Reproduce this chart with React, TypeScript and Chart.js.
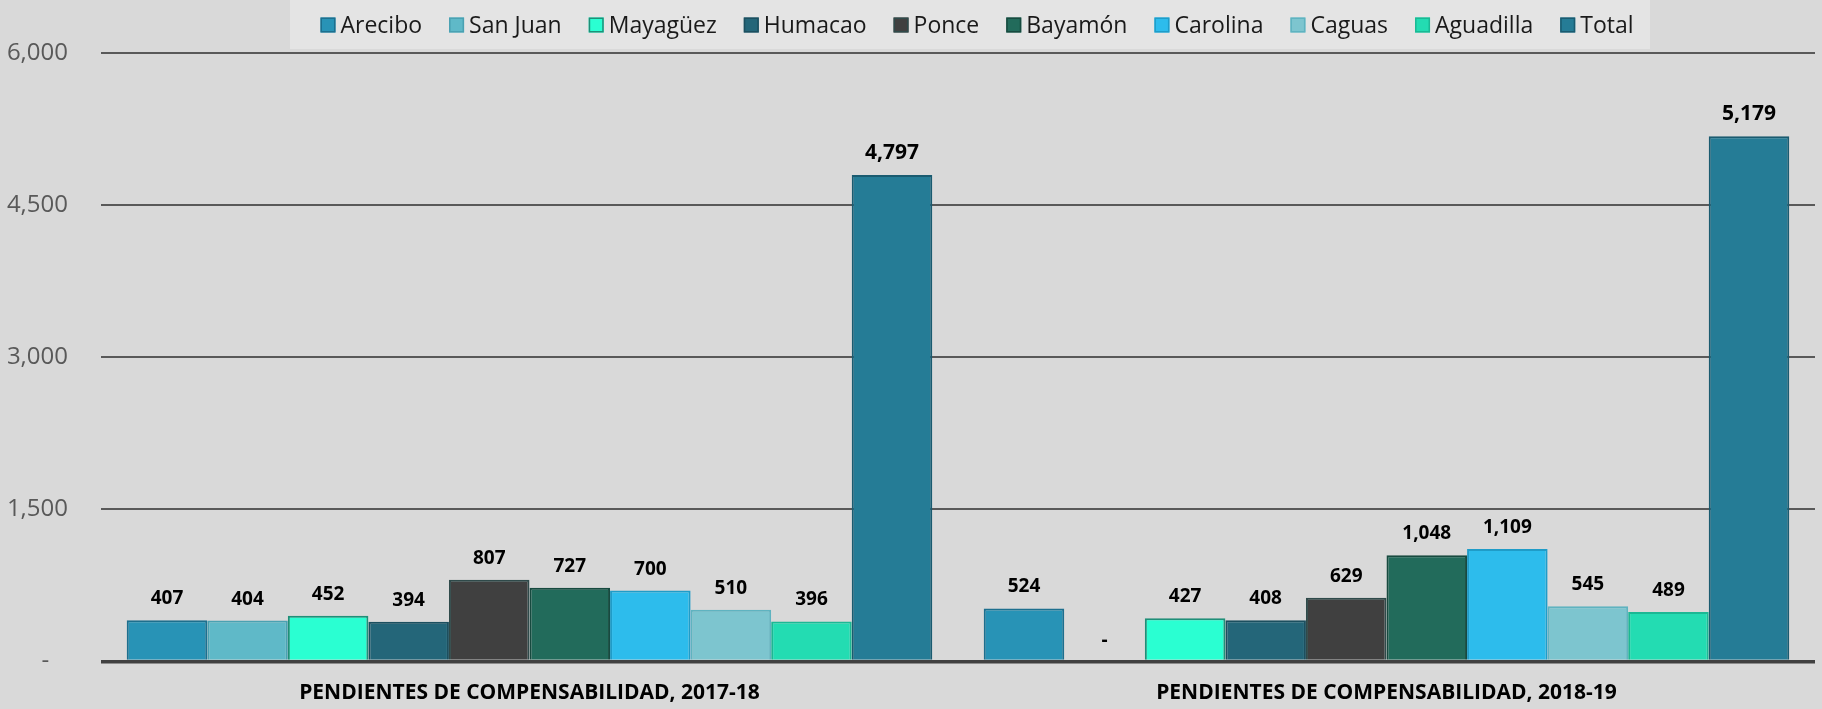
import React, { useEffect, useRef } from "react";
import { Chart, registerables } from "chart.js";

Chart.register(...registerables);

const categories = [
  "PENDIENTES DE COMPENSABILIDAD, 2017-18",
  "PENDIENTES DE COMPENSABILIDAD, 2018-19",
];
const seriesNames = [
  "Arecibo",
  "San Juan",
  "Mayagüez",
  "Humacao",
  "Ponce",
  "Bayamón",
  "Carolina",
  "Caguas",
  "Aguadilla",
  "Total",
];
const arecibo = [407, 524];
const sanJuan = [404, 0];
const mayaguez = [452, 427];
const humacao = [394, 408];
const ponce = [807, 629];
const bayamon = [727, 1048];
const carolina = [700, 1109];
const caguas = [510, 545];
const aguadilla = [396, 489];
const total = [4797, 5179];
const yTicks = [0, 1500, 3000, 4500, 6000];

const fills = ["#2893b6", "#5fb9c8", "#2affd2", "#246679", "#404040", "#226b5b", "#2dbcec", "#7dc5cf", "#23dcb2", "#257c96"];
const borders = ["#1d6f8e", "#4aa1b2", "#1f8f78", "#1c4f5f", "#2f4a4a", "#174a3f", "#1f9cc8", "#5fb3c0", "#1bb894", "#1a5b70"];

const FONT = "'Open Sans', 'Noto Sans', sans-serif";

const fmt = (v: number) => (v === 0 ? "-" : v.toLocaleString("en-US"));

const legendPlugin = {
  id: "customLegend",
  afterDraw(chart: any) {
    const ctx = chart.ctx;
    ctx.save();
    ctx.fillStyle = "#e4e4e4";
    ctx.fillRect(290, 0, 1360, 49);
    ctx.font = `23px ${FONT}`;
    ctx.textBaseline = "middle";
    const sq = 15;
    const gapSq = 5;
    const gapItem = 27;
    const ds = chart.data.datasets;
    let totalW = 0;
    const widths = ds.map((d: any) => ctx.measureText(d.label).width);
    widths.forEach((w: number, i: number) => {
      totalW += sq + gapSq + w + (i < widths.length - 1 ? gapItem : 0);
    });
    let x = 977 - totalW / 2;
    const cy = 25;
    ds.forEach((d: any, i: number) => {
      ctx.fillStyle = d.backgroundColor;
      ctx.fillRect(x, cy - sq / 2, sq, sq);
      ctx.strokeStyle = d.borderColor;
      ctx.lineWidth = 1.5;
      ctx.strokeRect(x + 0.75, cy - sq / 2 + 0.75, sq - 1.5, sq - 1.5);
      ctx.fillStyle = "#1a1a1a";
      ctx.textAlign = "left";
      ctx.fillText(d.label, x + sq + gapSq, cy + 1);
      x += sq + gapSq + widths[i] + gapItem;
    });
    ctx.restore();
  },
};

const dataLabelPlugin = {
  id: "dataLabels",
  afterDatasetsDraw(chart: any) {
    const ctx = chart.ctx;
    ctx.save();
    ctx.fillStyle = "#000000";
    ctx.textAlign = "center";
    ctx.textBaseline = "alphabetic";
    chart.data.datasets.forEach((d: any, di: number) => {
      const meta = chart.getDatasetMeta(di);
      const isTotal = di === chart.data.datasets.length - 1;
      ctx.font = `bold ${isTotal ? 21 : 19}px ${FONT}`;
      meta.data.forEach((bar: any, i: number) => {
        const v = d.data[i];
        ctx.fillText(fmt(v), bar.x, bar.y - 16);
      });
    });
    ctx.restore();
  },
};

export default function App() {
  const ref = useRef<HTMLCanvasElement | null>(null);

  useEffect(() => {
    document.body.style.margin = "0";
    const values = [arecibo, sanJuan, mayaguez, humacao, ponce, bayamon, carolina, caguas, aguadilla, total];
    const chart = new Chart(ref.current as HTMLCanvasElement, {
      type: "bar",
      data: {
        labels: categories,
        datasets: seriesNames.map((name, i) => ({
          label: name,
          data: values[i],
          backgroundColor: fills[i],
          borderColor: borders[i],
          borderWidth: 2,
          categoryPercentage: 0.94,
          barPercentage: 1,
        })),
      },
      options: {
        animation: false,
        responsive: true,
        maintainAspectRatio: false,
        layout: { padding: { top: 53, right: 7, left: 0, bottom: 0 } },
        plugins: {
          legend: { display: false },
          tooltip: { enabled: false },
        },
        scales: {
          x: {
            grid: { display: false, drawTicks: false },
            border: { display: false },
            ticks: {
              color: "#000000",
              font: { family: FONT, size: 21, weight: "bold" },
              padding: 19,
              maxRotation: 0,
            },
            afterFit: (s: any) => {
              s.height = 41;
            },
          },
          y: {
            min: 0,
            max: 6000,
            afterBuildTicks: (s: any) => {
              s.ticks = yTicks.map((v) => ({ value: v }));
            },
            grid: {
              drawTicks: false,
              color: (c: any) => (c.tick && c.tick.value === 0 ? "#404040" : "#595959"),
              lineWidth: (c: any) => (c.tick && c.tick.value === 0 ? 3.5 : 2),
            },
            border: { display: false },
            ticks: {
              color: "#595959",
              font: { family: FONT, size: 24 },
              padding: 33,
              callback: (v: any) => (Number(v) === 0 ? "-   " : Number(v).toLocaleString("en-US")),
            },
            afterFit: (s: any) => {
              s.width = 101;
            },
          },
        },
      },
      plugins: [legendPlugin, dataLabelPlugin],
    });
    return () => chart.destroy();
  }, []);

  return (
    <div style={{ width: 1822, height: 709, background: "#d9d9d9", position: "relative" }}>
      <canvas ref={ref} />
    </div>
  );
}
